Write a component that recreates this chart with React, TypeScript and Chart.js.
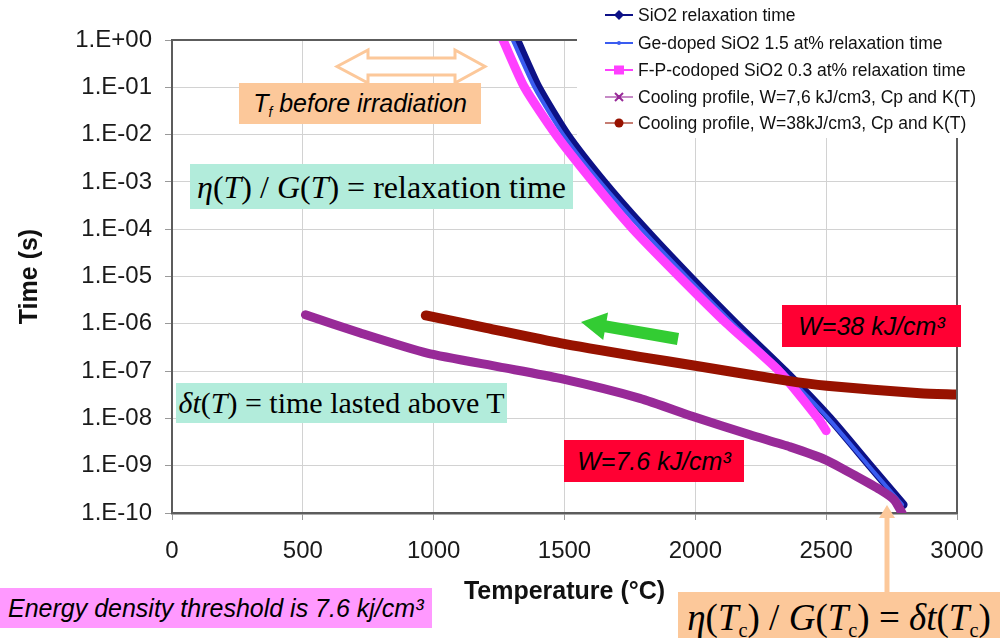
import React, { useEffect, useRef } from 'react';
import { Chart, registerables } from 'chart.js';

Chart.register(...registerables);

// Relaxation time eta/G of the glasses versus temperature
const sio2Temp = [1318, 1400, 1510, 1650, 1808, 1978, 2155, 2342, 2515, 2668, 2795];
const sio2Time = [1, 1e-1, 1e-2, 1e-3, 1e-4, 1e-5, 1e-6, 1e-7, 1e-8, 1e-9, 1.5e-10];

const geTemp = [1302, 1385, 1495, 1636, 1795, 1966, 2145, 2333, 2508, 2662, 2790];
const geTime = [1, 1e-1, 1e-2, 1e-3, 1e-4, 1e-5, 1e-6, 1e-7, 1e-8, 1e-9, 1.5e-10];

const fpTemp = [1265, 1347, 1467, 1609, 1762, 1938, 2121, 2320, 2469, 2500];
const fpTime = [1, 1e-1, 1e-2, 1e-3, 1e-4, 1e-5, 1e-6, 1e-7, 1e-8, 5.5e-9];

// Time lasted above T for the two cooling profiles
const cool76Temp = [510, 720, 975, 1250, 1483, 1788, 1991, 2209, 2362, 2502, 2617, 2706, 2760, 2790];
const cool76Time = [1.55e-6, 6.4e-7, 2.4e-7, 1.23e-7, 7.0e-8, 2.66e-8, 1.1e-8, 4.5e-9, 2.5e-9, 1.3e-9, 5.9e-10, 3.1e-10, 1.9e-10, 1e-10];

const cool38Temp = [970, 1200, 1483, 1788, 2000, 2349, 2502, 2859, 2995];
const cool38Time = [1.5e-6, 8.2e-7, 3.9e-7, 2.0e-7, 1.3e-7, 6.3e-8, 4.9e-8, 3.4e-8, 3.2e-8];

const seriesNames = [
  'SiO2 relaxation time',
  'Ge-doped SiO2 1.5 at% relaxation time',
  'F-P-codoped SiO2 0.3 at% relaxation time',
  'Cooling profile, W=7,6 kJ/cm3, Cp and K(T)',
  'Cooling profile, W=38kJ/cm3, Cp and K(T)',
];
const seriesColors = ['#0d1187', '#3a5cf0', '#ff40ff', '#982a98', '#971200'];
const seriesMarkers = ['diamond', 'dot', 'square', 'cross', 'circle'];

const xTickValues = [0, 500, 1000, 1500, 2000, 2500, 3000];
const xTickLabels = ['0', '500', '1000', '1500', '2000', '2500', '3000'];
const yTickValues = [1e-10, 1e-9, 1e-8, 1e-7, 1e-6, 1e-5, 1e-4, 1e-3, 1e-2, 1e-1, 1];
const yTickLabels = ['1.E-10', '1.E-09', '1.E-08', '1.E-07', '1.E-06', '1.E-05', '1.E-04', '1.E-03', '1.E-02', '1.E-01', '1.E+00'];

const SANS = "'Liberation Sans', Arial, sans-serif";
const SERIF = "'Liberation Serif', 'Times New Roman', serif";

const toPoints = (xs: number[], ys: number[]) => xs.map((x, i) => ({ x, y: ys[i] }));

// Frame around the plot area and the key in the top right corner
const frameAndKey = {
  id: 'frameAndKey',
  afterDraw(chart: any) {
    const { ctx, chartArea: a } = chart;
    ctx.save();
    ctx.strokeStyle = '#5c5c5c';
    ctx.lineWidth = 2;
    ctx.beginPath();
    ctx.moveTo(a.left, a.top);
    ctx.lineTo(a.right, a.top);
    ctx.lineTo(a.right, a.bottom);
    ctx.stroke();

    ctx.fillStyle = '#ffffff';
    ctx.fillRect(577, 0, 426, 138);

    const rowY = [15, 43, 70, 97, 123];
    ctx.font = `17.5px ${SANS}`;
    ctx.textBaseline = 'middle';
    ctx.textAlign = 'left';
    seriesNames.forEach((name, i) => {
      const y = rowY[i];
      const c = seriesColors[i];
      ctx.globalAlpha = i >= 3 ? 0.55 : 1;
      ctx.strokeStyle = c;
      ctx.lineWidth = 2;
      ctx.beginPath();
      ctx.moveTo(605, y);
      ctx.lineTo(633, y);
      ctx.stroke();
      ctx.globalAlpha = 1;
      ctx.fillStyle = c;
      const cx = 619;
      const m = seriesMarkers[i];
      if (m === 'diamond') {
        ctx.beginPath();
        ctx.moveTo(cx, y - 5);
        ctx.lineTo(cx + 5, y);
        ctx.lineTo(cx, y + 5);
        ctx.lineTo(cx - 5, y);
        ctx.closePath();
        ctx.fill();
      } else if (m === 'dot') {
        ctx.beginPath();
        ctx.arc(cx, y, 2, 0, Math.PI * 2);
        ctx.fill();
      } else if (m === 'square') {
        ctx.fillRect(cx - 5, y - 4.5, 10, 9);
      } else if (m === 'cross') {
        ctx.lineWidth = 2;
        ctx.beginPath();
        ctx.moveTo(cx - 4, y - 4);
        ctx.lineTo(cx + 4, y + 4);
        ctx.moveTo(cx + 4, y - 4);
        ctx.lineTo(cx - 4, y + 4);
        ctx.stroke();
        ctx.fillRect(cx - 2, y - 2, 4, 4);
      } else {
        ctx.beginPath();
        ctx.arc(cx, y, 4.5, 0, Math.PI * 2);
        ctx.fill();
      }
      ctx.fillStyle = '#111';
      ctx.fillText(name, 638, y + 1);
    });
    ctx.restore();
  },
};

function arrowPolygon(x1: number, y1: number, x2: number, y2: number, shaft: number, head: number, headLen: number) {
  const dx = x2 - x1;
  const dy = y2 - y1;
  const len = Math.hypot(dx, dy);
  const ux = dx / len;
  const uy = dy / len;
  const nx = -uy;
  const ny = ux;
  const bx = x2 - ux * headLen;
  const by = y2 - uy * headLen;
  const pts = [
    [x1 + nx * shaft, y1 + ny * shaft],
    [bx + nx * shaft, by + ny * shaft],
    [bx + nx * head, by + ny * head],
    [x2, y2],
    [bx - nx * head, by - ny * head],
    [bx - nx * shaft, by - ny * shaft],
    [x1 - nx * shaft, y1 - ny * shaft],
  ];
  return pts.map((p) => p.join(',')).join(' ');
}

const boxBase: React.CSSProperties = {
  position: 'absolute',
  display: 'flex',
  alignItems: 'center',
  justifyContent: 'center',
  whiteSpace: 'nowrap',
  lineHeight: 1,
  color: '#000',
};

const subStyle: React.CSSProperties = { fontSize: '0.55em', verticalAlign: '-0.35em', lineHeight: 0 };

export default function App() {
  const canvasRef = useRef<HTMLCanvasElement>(null);

  useEffect(() => {
    const canvas = canvasRef.current;
    if (!canvas) return;
    Chart.defaults.font.family = SANS;

    const line = (i: number, xs: number[], ys: number[], width: number, order: number) => ({
      label: seriesNames[i],
      data: toPoints(xs, ys),
      borderColor: seriesColors[i],
      backgroundColor: seriesColors[i],
      borderWidth: width,
      pointRadius: 0,
      tension: 0.2,
      borderCapStyle: 'round' as const,
      order,
    });

    const chart = new Chart(canvas, {
      type: 'line',
      data: {
        datasets: [
          line(0, sio2Temp, sio2Time, 8.5, 5),
          line(1, geTemp, geTime, 4, 4),
          line(2, fpTemp, fpTime, 9, 3),
          line(3, cool76Temp, cool76Time, 9, 2),
          line(4, cool38Temp, cool38Time, 10, 1),
        ],
      },
      options: {
        responsive: false,
        animation: false,
        parsing: false as any,
        layout: { padding: { top: 40, right: 46, left: 0, bottom: 0 } },
        plugins: { legend: { display: false }, tooltip: { enabled: false } },
        scales: {
          x: {
            type: 'linear',
            min: 0,
            max: 3000,
            afterBuildTicks: (axis: any) => {
              axis.ticks = xTickValues.map((v) => ({ value: v }));
            },
            afterFit: (axis: any) => {
              axis.height = 125;
            },
            ticks: {
              font: { size: 24 },
              color: '#1a1a1a',
              padding: 17,
              maxRotation: 0,
              autoSkip: false,
              callback: (_v: any, i: number) => xTickLabels[i],
            },
            grid: { color: '#d2d2d2', lineWidth: 1, tickLength: 7, tickColor: '#999' },
            border: { color: '#5c5c5c', width: 2.5 },
            title: {
              display: true,
              text: 'Temperature (°C)',
              font: { size: 25, weight: 'bold' },
              color: '#111',
              padding: { top: 0, bottom: 31 },
            },
          },
          y: {
            type: 'logarithmic',
            min: 1e-10,
            max: 1,
            afterBuildTicks: (axis: any) => {
              axis.ticks = yTickValues.map((v) => ({ value: v }));
            },
            afterFit: (axis: any) => {
              axis.width = 172;
            },
            ticks: {
              font: { size: 24 },
              color: '#1a1a1a',
              padding: 13,
              autoSkip: false,
              callback: (_v: any, i: number) => yTickLabels[i],
            },
            grid: { color: '#d2d2d2', lineWidth: 1, tickLength: 7, tickColor: '#999' },
            border: { color: '#5c5c5c', width: 2 },
            title: {
              display: true,
              text: 'Time (s)',
              font: { size: 25, weight: 'bold' },
              color: '#111',
              padding: { top: 15, bottom: 0 },
            },
          },
        },
      },
      plugins: [frameAndKey],
    } as any);

    return () => chart.destroy();
  }, []);

  const orange = '#fcc89a';
  const mint = '#b2ecdb';
  const red = '#ff0033';

  return (
    <div style={{ position: 'fixed', left: 0, top: 0, width: 1003, height: 638, background: '#fff', overflow: 'hidden' }}>
      <canvas ref={canvasRef} width={1003} height={638} style={{ position: 'absolute', left: 0, top: 0 }} />
      <svg width={1003} height={638} style={{ position: 'absolute', left: 0, top: 0 }}>
        <polygon
          points="337,66.5 368,50 368,58 455,58 455,50 485,66.5 455,83 455,75 368,75 368,83"
          fill="#ffffff"
          stroke={orange}
          strokeWidth={3}
          strokeLinejoin="miter"
        />
        <polygon points={arrowPolygon(678, 339, 581, 322, 6, 14, 25)} fill="#33cc33" />
        <line x1={887} y1={600} x2={887} y2={516} stroke={orange} strokeWidth={5} />
        <polygon points="879,518 895,518 887,505" fill={orange} />
      </svg>

      <div style={{ ...boxBase, left: 239, top: 83, width: 242, height: 41, background: orange, fontFamily: SANS, fontStyle: 'italic', fontSize: 25 }}>
        <span>
          T<sub style={subStyle}>f</sub> before irradiation
        </span>
      </div>

      <div style={{ ...boxBase, left: 190, top: 164, width: 383, height: 45, background: mint, fontFamily: SERIF, fontSize: 32 }}>
        <span>
          <i>η</i>(<i>T</i>) / <i>G</i>(<i>T</i>) = relaxation time
        </span>
      </div>

      <div style={{ ...boxBase, left: 782, top: 305, width: 179, height: 42, background: red, fontFamily: SANS, fontStyle: 'italic', fontSize: 25 }}>
        <span>W=38 kJ/cm³</span>
      </div>

      <div style={{ ...boxBase, left: 176, top: 383, width: 331, height: 40, background: mint, fontFamily: SERIF, fontSize: 30 }}>
        <span>
          <i>δt</i>(<i>T</i>) = time lasted above T
        </span>
      </div>

      <div style={{ ...boxBase, left: 564, top: 440, width: 180, height: 42, background: red, fontFamily: SANS, fontStyle: 'italic', fontSize: 25 }}>
        <span>W=7.6 kJ/cm³</span>
      </div>

      <div style={{ ...boxBase, left: 0, top: 588, width: 432, height: 40, background: '#ff99ff', fontFamily: SANS, fontStyle: 'italic', fontSize: 25, justifyContent: 'flex-start', paddingLeft: 8, boxSizing: 'border-box' }}>
        <span>Energy density threshold is 7.6 kj/cm³</span>
      </div>

      <div style={{ ...boxBase, left: 678, top: 592, width: 322, height: 52, background: orange, fontFamily: SERIF, fontSize: 37, alignItems: 'flex-start', paddingTop: 7, boxSizing: 'border-box' }}>
        <span>
          <i>η</i>(<i>T</i><sub style={subStyle}>c</sub>) / <i>G</i>(<i>T</i><sub style={subStyle}>c</sub>) = <i>δt</i>(<i>T</i><sub style={subStyle}>c</sub>)
        </span>
      </div>
    </div>
  );
}
